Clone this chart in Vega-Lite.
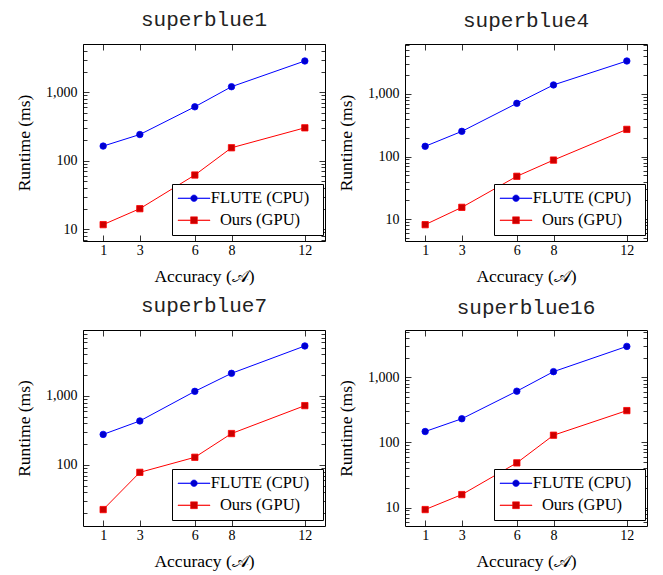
{
  "$schema": "https://vega.github.io/schema/vega-lite/v6.json",
  "padding": {"left": 15, "top": 8, "right": 4, "bottom": 4},
  "datasets": {
    "runs": [
      {"panel": "superblue1", "series": "FLUTE (CPU)", "acc": 1, "runtime": 164},
      {"panel": "superblue1", "series": "FLUTE (CPU)", "acc": 3, "runtime": 242},
      {"panel": "superblue1", "series": "FLUTE (CPU)", "acc": 6, "runtime": 614},
      {"panel": "superblue1", "series": "FLUTE (CPU)", "acc": 8, "runtime": 1207},
      {"panel": "superblue1", "series": "FLUTE (CPU)", "acc": 12, "runtime": 2865},
      {"panel": "superblue1", "series": "Ours (GPU)", "acc": 1, "runtime": 11.7},
      {"panel": "superblue1", "series": "Ours (GPU)", "acc": 3, "runtime": 20},
      {"panel": "superblue1", "series": "Ours (GPU)", "acc": 6, "runtime": 62},
      {"panel": "superblue1", "series": "Ours (GPU)", "acc": 8, "runtime": 155},
      {"panel": "superblue1", "series": "Ours (GPU)", "acc": 12, "runtime": 303},
      {"panel": "superblue4", "series": "FLUTE (CPU)", "acc": 1, "runtime": 146},
      {"panel": "superblue4", "series": "FLUTE (CPU)", "acc": 3, "runtime": 253},
      {"panel": "superblue4", "series": "FLUTE (CPU)", "acc": 6, "runtime": 708},
      {"panel": "superblue4", "series": "FLUTE (CPU)", "acc": 8, "runtime": 1393},
      {"panel": "superblue4", "series": "FLUTE (CPU)", "acc": 12, "runtime": 3357},
      {"panel": "superblue4", "series": "Ours (GPU)", "acc": 1, "runtime": 8.2},
      {"panel": "superblue4", "series": "Ours (GPU)", "acc": 3, "runtime": 15.5},
      {"panel": "superblue4", "series": "Ours (GPU)", "acc": 6, "runtime": 48.5},
      {"panel": "superblue4", "series": "Ours (GPU)", "acc": 8, "runtime": 88},
      {"panel": "superblue4", "series": "Ours (GPU)", "acc": 12, "runtime": 272},
      {"panel": "superblue7", "series": "FLUTE (CPU)", "acc": 1, "runtime": 277},
      {"panel": "superblue7", "series": "FLUTE (CPU)", "acc": 3, "runtime": 434},
      {"panel": "superblue7", "series": "FLUTE (CPU)", "acc": 6, "runtime": 1166},
      {"panel": "superblue7", "series": "FLUTE (CPU)", "acc": 8, "runtime": 2130},
      {"panel": "superblue7", "series": "FLUTE (CPU)", "acc": 12, "runtime": 5310},
      {"panel": "superblue7", "series": "Ours (GPU)", "acc": 1, "runtime": 22.5},
      {"panel": "superblue7", "series": "Ours (GPU)", "acc": 3, "runtime": 78},
      {"panel": "superblue7", "series": "Ours (GPU)", "acc": 6, "runtime": 129},
      {"panel": "superblue7", "series": "Ours (GPU)", "acc": 8, "runtime": 285},
      {"panel": "superblue7", "series": "Ours (GPU)", "acc": 12, "runtime": 724},
      {"panel": "superblue16", "series": "FLUTE (CPU)", "acc": 1, "runtime": 147},
      {"panel": "superblue16", "series": "FLUTE (CPU)", "acc": 3, "runtime": 231},
      {"panel": "superblue16", "series": "FLUTE (CPU)", "acc": 6, "runtime": 612},
      {"panel": "superblue16", "series": "FLUTE (CPU)", "acc": 8, "runtime": 1222},
      {"panel": "superblue16", "series": "FLUTE (CPU)", "acc": 12, "runtime": 2985},
      {"panel": "superblue16", "series": "Ours (GPU)", "acc": 1, "runtime": 9.3},
      {"panel": "superblue16", "series": "Ours (GPU)", "acc": 3, "runtime": 15.8},
      {"panel": "superblue16", "series": "Ours (GPU)", "acc": 6, "runtime": 48.5},
      {"panel": "superblue16", "series": "Ours (GPU)", "acc": 8, "runtime": 129},
      {"panel": "superblue16", "series": "Ours (GPU)", "acc": 12, "runtime": 308}
    ]
  },
  "columns": 2,
  "spacing": {"row": 9, "column": 11},
  "concat": [
    {
      "title": "superblue1",
      "width": 242, "height": 197,
      "data": {"name": "runs"},
      "transform": [{"filter": "datum.panel === 'superblue1'"}],
      "resolve": {"axis": {"x": "independent", "y": "independent"}},
      "layer": [
        {
          "transform": [{"filter": "datum.series === 'FLUTE (CPU)'"}],
          "mark": {"type": "line", "strokeWidth": 1, "color": "#0000ff"},
          "encoding": {
            "x": {"field": "acc", "type": "quantitative", "scale": {"domain": [-0.1, 13.1], "nice": false, "zero": false},
                  "axis": {"orient": "bottom", "values": [1, 3, 6, 8, 12], "tickSize": -6, "labelPadding": 8, "title": "Accuracy (𝒜)", "titlePadding": 10, "labelFlush": false, "labelOverlap": false}},
            "y": {"field": "runtime", "type": "quantitative", "scale": {"type": "log", "domain": [6.75, 5070], "nice": false},
                  "axis": {"orient": "left", "values": [7, 8, 9, 10, 20, 30, 40, 50, 60, 70, 80, 90, 100, 200, 300, 400, 500, 600, 700, 800, 900, 1000, 2000, 3000, 4000, 5000],
                           "tickSize": {"condition": {"test": "datum.value == 10 || datum.value == 100 || datum.value == 1000", "value": -6}, "value": -4},
                           "labelPadding": 12, "labelOverlap": false, "labelExpr": "datum.value == 10 || datum.value == 100 || datum.value == 1000 ? format(datum.value, ',') : ''",
                           "title": "Runtime (ms)", "titlePadding": 12}}
          }
        },
        {
          "transform": [{"filter": "datum.series === 'Ours (GPU)'"}],
          "mark": {"type": "line", "strokeWidth": 1, "color": "#ff0000"},
          "encoding": {"x": {"field": "acc", "type": "quantitative", "axis": null}, "y": {"field": "runtime", "type": "quantitative", "axis": null}}
        },
        {
          "transform": [{"filter": "datum.series === 'FLUTE (CPU)'"}],
          "mark": {"type": "point", "shape": "circle", "filled": true, "fill": "#0000cc", "stroke": "#0000ff", "size": 42, "strokeWidth": 0.8, "opacity": 1},
          "encoding": {
            "x": {"field": "acc", "type": "quantitative",
                  "axis": {"orient": "top", "values": [1, 3, 6, 8, 12], "tickSize": -6, "labels": false, "title": null}},
            "y": {"field": "runtime", "type": "quantitative",
                  "axis": {"orient": "right", "values": [7, 8, 9, 10, 20, 30, 40, 50, 60, 70, 80, 90, 100, 200, 300, 400, 500, 600, 700, 800, 900, 1000, 2000, 3000, 4000, 5000],
                           "tickSize": {"condition": {"test": "datum.value == 10 || datum.value == 100 || datum.value == 1000", "value": -6}, "value": -4},
                           "labels": false, "title": null}}
          }
        },
        {
          "transform": [{"filter": "datum.series === 'Ours (GPU)'"}],
          "mark": {"type": "point", "shape": "square", "filled": true, "fill": "#cc0000", "stroke": "#ff0000", "size": 40, "strokeWidth": 0.8, "opacity": 1},
          "encoding": {"x": {"field": "acc", "type": "quantitative", "axis": null}, "y": {"field": "runtime", "type": "quantitative", "axis": null}}
        },
        {
          "transform": [{"filter": "false"}],
          "mark": {"type": "point", "filled": true},
          "encoding": {
            "fill": {"field": "series", "type": "nominal", "scale": {"domain": ["FLUTE (CPU)", "Ours (GPU)"], "range": ["#0000cc", "#cc0000"]}, "legend": {"title": null, "orient": "none", "legendX": 89, "legendY": 140}},
            "stroke": {"field": "series", "type": "nominal", "scale": {"domain": ["FLUTE (CPU)", "Ours (GPU)"], "range": ["#0000ff", "#ff0000"]}, "legend": {"title": null, "orient": "none", "legendX": 89, "legendY": 140}},
            "shape": {"field": "series", "type": "nominal", "scale": {"domain": ["FLUTE (CPU)", "Ours (GPU)"], "range": [
              "M-1.65,-0.05L0.89,-0.05L0.89,0.05L-1.65,0.05Z M2.21,-0.05L4.75,-0.05L4.75,0.05L2.21,0.05Z M0.89,0A0.66,0.66 0 1,1 2.21,0A0.66,0.66 0 1,1 0.89,0Z M25.9,0Z",
              "M-1.65,-0.05L0.87,-0.05L0.87,0.05L-1.65,0.05Z M2.23,-0.05L4.75,-0.05L4.75,0.05L2.23,0.05Z M0.87,-0.68L2.23,-0.68L2.23,0.68L0.87,0.68Z M25.9,0Z"]},
                      "legend": {"title": null, "orient": "none", "legendX": 89, "legendY": 140}}
          }
        }
      ]
    },
    {
      "title": "superblue4",
      "width": 242, "height": 197,
      "data": {"name": "runs"},
      "transform": [{"filter": "datum.panel === 'superblue4'"}],
      "resolve": {"axis": {"x": "independent", "y": "independent"}},
      "layer": [
        {
          "transform": [{"filter": "datum.series === 'FLUTE (CPU)'"}],
          "mark": {"type": "line", "strokeWidth": 1, "color": "#0000ff"},
          "encoding": {
            "x": {"field": "acc", "type": "quantitative", "scale": {"domain": [-0.1, 13.1], "nice": false, "zero": false},
                  "axis": {"orient": "bottom", "values": [1, 3, 6, 8, 12], "tickSize": -6, "labelPadding": 8, "title": "Accuracy (𝒜)", "titlePadding": 10, "labelFlush": false, "labelOverlap": false}},
            "y": {"field": "runtime", "type": "quantitative", "scale": {"type": "log", "domain": [4.5, 6270], "nice": false},
                  "axis": {"orient": "left", "values": [5, 6, 7, 8, 9, 10, 20, 30, 40, 50, 60, 70, 80, 90, 100, 200, 300, 400, 500, 600, 700, 800, 900, 1000, 2000, 3000, 4000, 5000, 6000],
                           "tickSize": {"condition": {"test": "datum.value == 10 || datum.value == 100 || datum.value == 1000", "value": -6}, "value": -4},
                           "labelPadding": 12, "labelOverlap": false, "labelExpr": "datum.value == 10 || datum.value == 100 || datum.value == 1000 ? format(datum.value, ',') : ''",
                           "title": "Runtime (ms)", "titlePadding": 12}}
          }
        },
        {
          "transform": [{"filter": "datum.series === 'Ours (GPU)'"}],
          "mark": {"type": "line", "strokeWidth": 1, "color": "#ff0000"},
          "encoding": {"x": {"field": "acc", "type": "quantitative", "axis": null}, "y": {"field": "runtime", "type": "quantitative", "axis": null}}
        },
        {
          "transform": [{"filter": "datum.series === 'FLUTE (CPU)'"}],
          "mark": {"type": "point", "shape": "circle", "filled": true, "fill": "#0000cc", "stroke": "#0000ff", "size": 42, "strokeWidth": 0.8, "opacity": 1},
          "encoding": {
            "x": {"field": "acc", "type": "quantitative",
                  "axis": {"orient": "top", "values": [1, 3, 6, 8, 12], "tickSize": -6, "labels": false, "title": null}},
            "y": {"field": "runtime", "type": "quantitative",
                  "axis": {"orient": "right", "values": [5, 6, 7, 8, 9, 10, 20, 30, 40, 50, 60, 70, 80, 90, 100, 200, 300, 400, 500, 600, 700, 800, 900, 1000, 2000, 3000, 4000, 5000, 6000],
                           "tickSize": {"condition": {"test": "datum.value == 10 || datum.value == 100 || datum.value == 1000", "value": -6}, "value": -4},
                           "labels": false, "title": null}}
          }
        },
        {
          "transform": [{"filter": "datum.series === 'Ours (GPU)'"}],
          "mark": {"type": "point", "shape": "square", "filled": true, "fill": "#cc0000", "stroke": "#ff0000", "size": 40, "strokeWidth": 0.8, "opacity": 1},
          "encoding": {"x": {"field": "acc", "type": "quantitative", "axis": null}, "y": {"field": "runtime", "type": "quantitative", "axis": null}}
        },
        {
          "transform": [{"filter": "false"}],
          "mark": {"type": "point", "filled": true},
          "encoding": {
            "fill": {"field": "series", "type": "nominal", "scale": {"domain": ["FLUTE (CPU)", "Ours (GPU)"], "range": ["#0000cc", "#cc0000"]}, "legend": {"title": null, "orient": "none", "legendX": 89, "legendY": 140}},
            "stroke": {"field": "series", "type": "nominal", "scale": {"domain": ["FLUTE (CPU)", "Ours (GPU)"], "range": ["#0000ff", "#ff0000"]}, "legend": {"title": null, "orient": "none", "legendX": 89, "legendY": 140}},
            "shape": {"field": "series", "type": "nominal", "scale": {"domain": ["FLUTE (CPU)", "Ours (GPU)"], "range": [
              "M-1.65,-0.05L0.89,-0.05L0.89,0.05L-1.65,0.05Z M2.21,-0.05L4.75,-0.05L4.75,0.05L2.21,0.05Z M0.89,0A0.66,0.66 0 1,1 2.21,0A0.66,0.66 0 1,1 0.89,0Z M25.9,0Z",
              "M-1.65,-0.05L0.87,-0.05L0.87,0.05L-1.65,0.05Z M2.23,-0.05L4.75,-0.05L4.75,0.05L2.23,0.05Z M0.87,-0.68L2.23,-0.68L2.23,0.68L0.87,0.68Z M25.9,0Z"]},
                      "legend": {"title": null, "orient": "none", "legendX": 89, "legendY": 140}}
          }
        }
      ]
    },
    {
      "title": "superblue7",
      "width": 242, "height": 196,
      "data": {"name": "runs"},
      "transform": [{"filter": "datum.panel === 'superblue7'"}],
      "resolve": {"axis": {"x": "independent", "y": "independent"}},
      "layer": [
        {
          "transform": [{"filter": "datum.series === 'FLUTE (CPU)'"}],
          "mark": {"type": "line", "strokeWidth": 1, "color": "#0000ff"},
          "encoding": {
            "x": {"field": "acc", "type": "quantitative", "scale": {"domain": [-0.1, 13.1], "nice": false, "zero": false},
                  "axis": {"orient": "bottom", "values": [1, 3, 6, 8, 12], "tickSize": -6, "labelPadding": 8, "title": "Accuracy (𝒜)", "titlePadding": 10, "labelFlush": false, "labelOverlap": false}},
            "y": {"field": "runtime", "type": "quantitative", "scale": {"type": "log", "domain": [13, 9050], "nice": false},
                  "axis": {"orient": "left", "values": [20, 30, 40, 50, 60, 70, 80, 90, 100, 200, 300, 400, 500, 600, 700, 800, 900, 1000, 2000, 3000, 4000, 5000, 6000, 7000, 8000, 9000],
                           "tickSize": {"condition": {"test": "datum.value == 10 || datum.value == 100 || datum.value == 1000", "value": -6}, "value": -4},
                           "labelPadding": 12, "labelOverlap": false, "labelExpr": "datum.value == 10 || datum.value == 100 || datum.value == 1000 ? format(datum.value, ',') : ''",
                           "title": "Runtime (ms)", "titlePadding": 12}}
          }
        },
        {
          "transform": [{"filter": "datum.series === 'Ours (GPU)'"}],
          "mark": {"type": "line", "strokeWidth": 1, "color": "#ff0000"},
          "encoding": {"x": {"field": "acc", "type": "quantitative", "axis": null}, "y": {"field": "runtime", "type": "quantitative", "axis": null}}
        },
        {
          "transform": [{"filter": "datum.series === 'FLUTE (CPU)'"}],
          "mark": {"type": "point", "shape": "circle", "filled": true, "fill": "#0000cc", "stroke": "#0000ff", "size": 42, "strokeWidth": 0.8, "opacity": 1},
          "encoding": {
            "x": {"field": "acc", "type": "quantitative",
                  "axis": {"orient": "top", "values": [1, 3, 6, 8, 12], "tickSize": -6, "labels": false, "title": null}},
            "y": {"field": "runtime", "type": "quantitative",
                  "axis": {"orient": "right", "values": [20, 30, 40, 50, 60, 70, 80, 90, 100, 200, 300, 400, 500, 600, 700, 800, 900, 1000, 2000, 3000, 4000, 5000, 6000, 7000, 8000, 9000],
                           "tickSize": {"condition": {"test": "datum.value == 10 || datum.value == 100 || datum.value == 1000", "value": -6}, "value": -4},
                           "labels": false, "title": null}}
          }
        },
        {
          "transform": [{"filter": "datum.series === 'Ours (GPU)'"}],
          "mark": {"type": "point", "shape": "square", "filled": true, "fill": "#cc0000", "stroke": "#ff0000", "size": 40, "strokeWidth": 0.8, "opacity": 1},
          "encoding": {"x": {"field": "acc", "type": "quantitative", "axis": null}, "y": {"field": "runtime", "type": "quantitative", "axis": null}}
        },
        {
          "transform": [{"filter": "false"}],
          "mark": {"type": "point", "filled": true},
          "encoding": {
            "fill": {"field": "series", "type": "nominal", "scale": {"domain": ["FLUTE (CPU)", "Ours (GPU)"], "range": ["#0000cc", "#cc0000"]}, "legend": {"title": null, "orient": "none", "legendX": 89, "legendY": 139}},
            "stroke": {"field": "series", "type": "nominal", "scale": {"domain": ["FLUTE (CPU)", "Ours (GPU)"], "range": ["#0000ff", "#ff0000"]}, "legend": {"title": null, "orient": "none", "legendX": 89, "legendY": 139}},
            "shape": {"field": "series", "type": "nominal", "scale": {"domain": ["FLUTE (CPU)", "Ours (GPU)"], "range": [
              "M-1.65,-0.05L0.89,-0.05L0.89,0.05L-1.65,0.05Z M2.21,-0.05L4.75,-0.05L4.75,0.05L2.21,0.05Z M0.89,0A0.66,0.66 0 1,1 2.21,0A0.66,0.66 0 1,1 0.89,0Z M25.9,0Z",
              "M-1.65,-0.05L0.87,-0.05L0.87,0.05L-1.65,0.05Z M2.23,-0.05L4.75,-0.05L4.75,0.05L2.23,0.05Z M0.87,-0.68L2.23,-0.68L2.23,0.68L0.87,0.68Z M25.9,0Z"]},
                      "legend": {"title": null, "orient": "none", "legendX": 89, "legendY": 139}}
          }
        }
      ]
    },
    {
      "title": "superblue16",
      "width": 242, "height": 196,
      "data": {"name": "runs"},
      "transform": [{"filter": "datum.panel === 'superblue16'"}],
      "resolve": {"axis": {"x": "independent", "y": "independent"}},
      "layer": [
        {
          "transform": [{"filter": "datum.series === 'FLUTE (CPU)'"}],
          "mark": {"type": "line", "strokeWidth": 1, "color": "#0000ff"},
          "encoding": {
            "x": {"field": "acc", "type": "quantitative", "scale": {"domain": [-0.1, 13.1], "nice": false, "zero": false},
                  "axis": {"orient": "bottom", "values": [1, 3, 6, 8, 12], "tickSize": -6, "labelPadding": 8, "title": "Accuracy (𝒜)", "titlePadding": 10, "labelFlush": false, "labelOverlap": false}},
            "y": {"field": "runtime", "type": "quantitative", "scale": {"type": "log", "domain": [5.2, 5330], "nice": false},
                  "axis": {"orient": "left", "values": [6, 7, 8, 9, 10, 20, 30, 40, 50, 60, 70, 80, 90, 100, 200, 300, 400, 500, 600, 700, 800, 900, 1000, 2000, 3000, 4000, 5000],
                           "tickSize": {"condition": {"test": "datum.value == 10 || datum.value == 100 || datum.value == 1000", "value": -6}, "value": -4},
                           "labelPadding": 12, "labelOverlap": false, "labelExpr": "datum.value == 10 || datum.value == 100 || datum.value == 1000 ? format(datum.value, ',') : ''",
                           "title": "Runtime (ms)", "titlePadding": 12}}
          }
        },
        {
          "transform": [{"filter": "datum.series === 'Ours (GPU)'"}],
          "mark": {"type": "line", "strokeWidth": 1, "color": "#ff0000"},
          "encoding": {"x": {"field": "acc", "type": "quantitative", "axis": null}, "y": {"field": "runtime", "type": "quantitative", "axis": null}}
        },
        {
          "transform": [{"filter": "datum.series === 'FLUTE (CPU)'"}],
          "mark": {"type": "point", "shape": "circle", "filled": true, "fill": "#0000cc", "stroke": "#0000ff", "size": 42, "strokeWidth": 0.8, "opacity": 1},
          "encoding": {
            "x": {"field": "acc", "type": "quantitative",
                  "axis": {"orient": "top", "values": [1, 3, 6, 8, 12], "tickSize": -6, "labels": false, "title": null}},
            "y": {"field": "runtime", "type": "quantitative",
                  "axis": {"orient": "right", "values": [6, 7, 8, 9, 10, 20, 30, 40, 50, 60, 70, 80, 90, 100, 200, 300, 400, 500, 600, 700, 800, 900, 1000, 2000, 3000, 4000, 5000],
                           "tickSize": {"condition": {"test": "datum.value == 10 || datum.value == 100 || datum.value == 1000", "value": -6}, "value": -4},
                           "labels": false, "title": null}}
          }
        },
        {
          "transform": [{"filter": "datum.series === 'Ours (GPU)'"}],
          "mark": {"type": "point", "shape": "square", "filled": true, "fill": "#cc0000", "stroke": "#ff0000", "size": 40, "strokeWidth": 0.8, "opacity": 1},
          "encoding": {"x": {"field": "acc", "type": "quantitative", "axis": null}, "y": {"field": "runtime", "type": "quantitative", "axis": null}}
        },
        {
          "transform": [{"filter": "false"}],
          "mark": {"type": "point", "filled": true},
          "encoding": {
            "fill": {"field": "series", "type": "nominal", "scale": {"domain": ["FLUTE (CPU)", "Ours (GPU)"], "range": ["#0000cc", "#cc0000"]}, "legend": {"title": null, "orient": "none", "legendX": 89, "legendY": 139}},
            "stroke": {"field": "series", "type": "nominal", "scale": {"domain": ["FLUTE (CPU)", "Ours (GPU)"], "range": ["#0000ff", "#ff0000"]}, "legend": {"title": null, "orient": "none", "legendX": 89, "legendY": 139}},
            "shape": {"field": "series", "type": "nominal", "scale": {"domain": ["FLUTE (CPU)", "Ours (GPU)"], "range": [
              "M-1.65,-0.05L0.89,-0.05L0.89,0.05L-1.65,0.05Z M2.21,-0.05L4.75,-0.05L4.75,0.05L2.21,0.05Z M0.89,0A0.66,0.66 0 1,1 2.21,0A0.66,0.66 0 1,1 0.89,0Z M25.9,0Z",
              "M-1.65,-0.05L0.87,-0.05L0.87,0.05L-1.65,0.05Z M2.23,-0.05L4.75,-0.05L4.75,0.05L2.23,0.05Z M0.87,-0.68L2.23,-0.68L2.23,0.68L0.87,0.68Z M25.9,0Z"]},
                      "legend": {"title": null, "orient": "none", "legendX": 89, "legendY": 139}}
          }
        }
      ]
    }
  ],
  "resolve": {"scale": {"fill": "independent", "stroke": "independent", "shape": "independent"}},
  "config": {
    "view": {"stroke": "black", "strokeWidth": 1},
    "axis": {
      "domain": false, "grid": false, "tickColor": "black", "tickWidth": 0.8,
      "labelFont": "Liberation Serif", "labelFontSize": 14, "labelColor": "black",
      "titleFont": "Liberation Serif", "titleFontSize": 17.5, "titleFontWeight": "normal", "titleColor": "black"
    },
    "title": {"font": "Liberation Mono", "fontSize": 21, "fontWeight": "normal", "color": "#222222", "frame": "group", "anchor": "middle", "offset": 7},
    "legend": {
      "padding": 6, "strokeColor": "black", "fillColor": "white", "cornerRadius": 0,
      "labelFont": "Liberation Serif", "labelFontSize": 16.5, "labelColor": "black", "labelAlign": "center", "labelOffset": 65.5,
      "rowPadding": 5, "symbolSize": 100, "symbolStrokeWidth": 0.6, "symbolOpacity": 1
    }
  }
}
